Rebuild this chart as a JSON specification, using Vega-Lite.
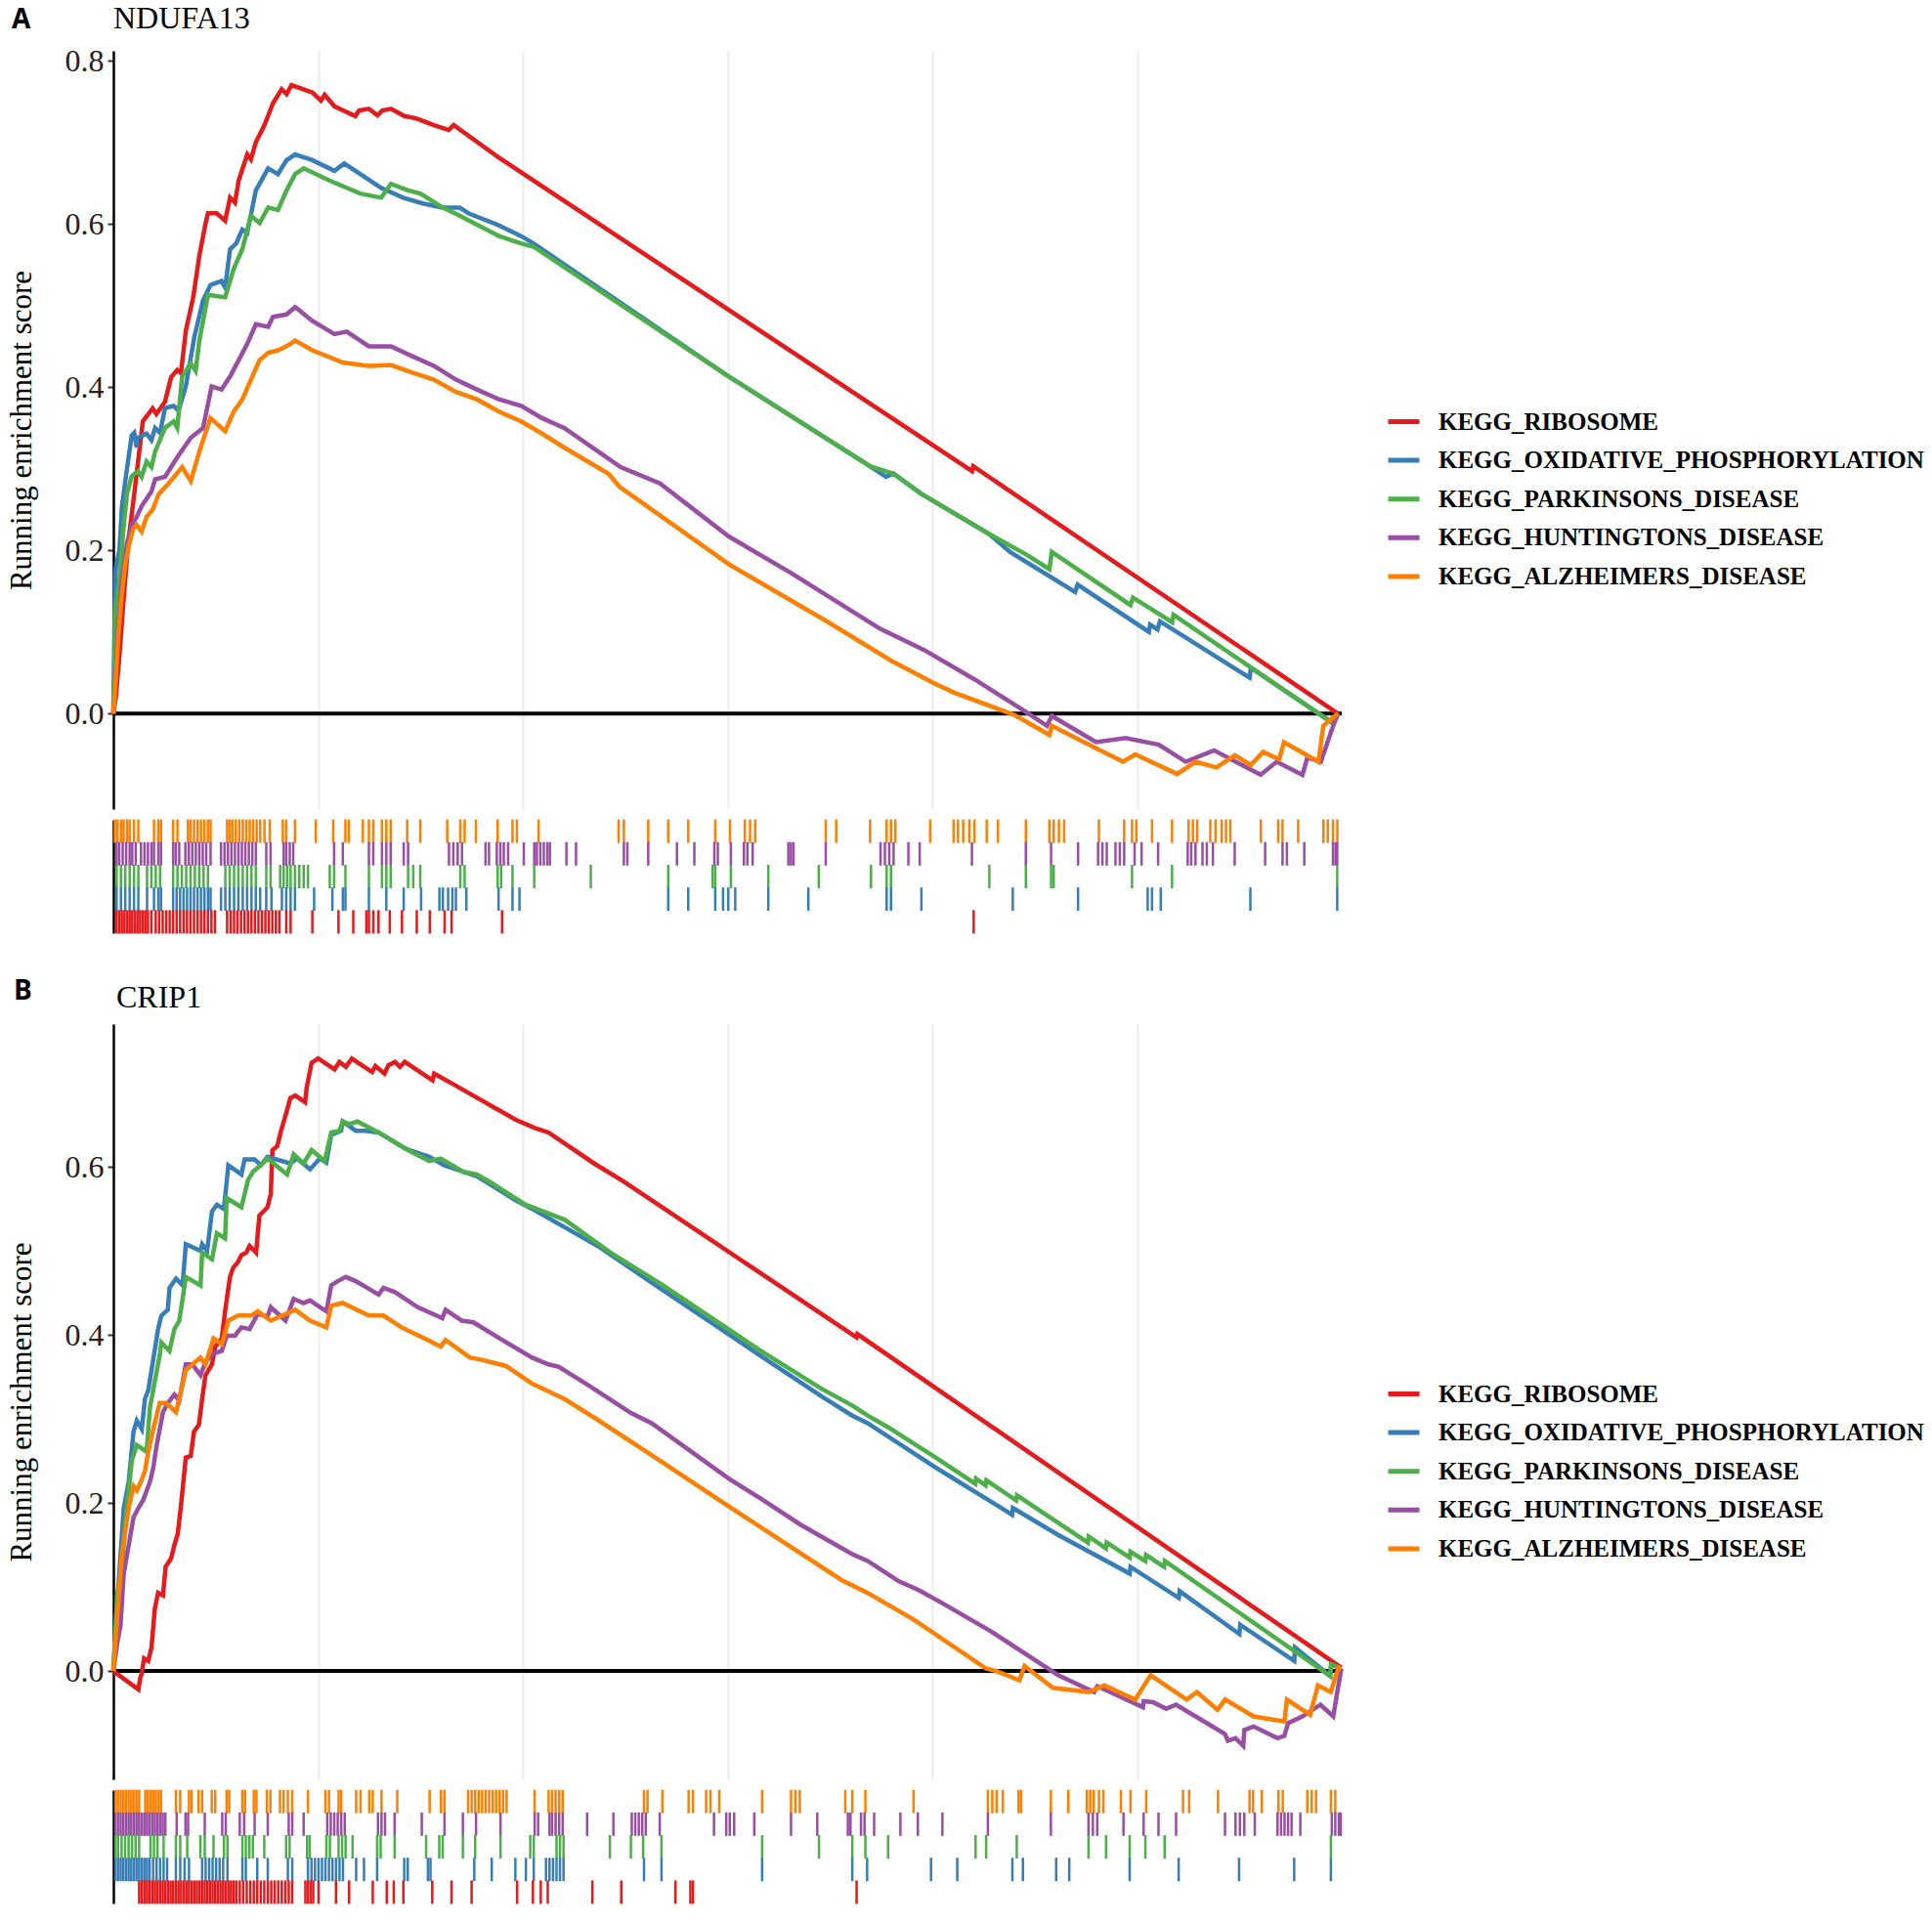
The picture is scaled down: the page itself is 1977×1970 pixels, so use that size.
{
  "$schema": "https://vega.github.io/schema/vega-lite/v6.json",
  "background": "white",
  "padding": {"left": 6, "top": 3, "right": 5, "bottom": 5},
  "config": {"font": "Liberation Serif", "view": {"stroke": null}},
  "datasets": {
    "curvesA": [
      {"set":"RIB","rank":0,"es":0},{"set":"RIB","rank":60,"es":0.02},{"set":"RIB","rank":150,"es":0.072},{"set":"RIB","rank":240,"es":0.133},{"set":"RIB","rank":360,"es":0.208},{"set":"RIB","rank":510,"es":0.269},{"set":"RIB","rank":720,"es":0.358},{"set":"RIB","rank":960,"es":0.374},{"set":"RIB","rank":1050,"es":0.367},{"set":"RIB","rank":1260,"es":0.382},{"set":"RIB","rank":1410,"es":0.412},{"set":"RIB","rank":1560,"es":0.421},{"set":"RIB","rank":1650,"es":0.417},{"set":"RIB","rank":1770,"es":0.469},{"set":"RIB","rank":1950,"es":0.51},{"set":"RIB","rank":2100,"es":0.561},{"set":"RIB","rank":2250,"es":0.6},{"set":"RIB","rank":2310,"es":0.613},{"set":"RIB","rank":2520,"es":0.613},{"set":"RIB","rank":2730,"es":0.604},{"set":"RIB","rank":2850,"es":0.632},{"set":"RIB","rank":2970,"es":0.626},{"set":"RIB","rank":3060,"es":0.653},{"set":"RIB","rank":3270,"es":0.685},{"set":"RIB","rank":3360,"es":0.679},{"set":"RIB","rank":3480,"es":0.7},{"set":"RIB","rank":3690,"es":0.721},{"set":"RIB","rank":3900,"es":0.748},{"set":"RIB","rank":4110,"es":0.765},{"set":"RIB","rank":4230,"es":0.759},{"set":"RIB","rank":4350,"es":0.77},{"set":"RIB","rank":4860,"es":0.761},{"set":"RIB","rank":5070,"es":0.751},{"set":"RIB","rank":5160,"es":0.758},{"set":"RIB","rank":5400,"es":0.744},{"set":"RIB","rank":5610,"es":0.739},{"set":"RIB","rank":5910,"es":0.732},{"set":"RIB","rank":6000,"es":0.739},{"set":"RIB","rank":6240,"es":0.741},{"set":"RIB","rank":6450,"es":0.733},{"set":"RIB","rank":6570,"es":0.739},{"set":"RIB","rank":6780,"es":0.741},{"set":"RIB","rank":7110,"es":0.732},{"set":"RIB","rank":7410,"es":0.729},{"set":"RIB","rank":7830,"es":0.721},{"set":"RIB","rank":8190,"es":0.715},{"set":"RIB","rank":8310,"es":0.721},{"set":"RIB","rank":9420,"es":0.681},{"set":"RIB","rank":20970,"es":0.297},{"set":"RIB","rank":21000,"es":0.303},{"set":"RIB","rank":29910,"es":0},
      {"set":"OXP","rank":0,"es":0},{"set":"OXP","rank":30,"es":0.118},{"set":"OXP","rank":60,"es":0.178},{"set":"OXP","rank":150,"es":0.201},{"set":"OXP","rank":210,"es":0.254},{"set":"OXP","rank":330,"es":0.299},{"set":"OXP","rank":450,"es":0.341},{"set":"OXP","rank":510,"es":0.344},{"set":"OXP","rank":570,"es":0.326},{"set":"OXP","rank":600,"es":0.338},{"set":"OXP","rank":810,"es":0.343},{"set":"OXP","rank":930,"es":0.335},{"set":"OXP","rank":1020,"es":0.35},{"set":"OXP","rank":1140,"es":0.344},{"set":"OXP","rank":1260,"es":0.374},{"set":"OXP","rank":1470,"es":0.377},{"set":"OXP","rank":1590,"es":0.371},{"set":"OXP","rank":1770,"es":0.401},{"set":"OXP","rank":1980,"es":0.462},{"set":"OXP","rank":2190,"es":0.506},{"set":"OXP","rank":2370,"es":0.525},{"set":"OXP","rank":2640,"es":0.53},{"set":"OXP","rank":2730,"es":0.522},{"set":"OXP","rank":2850,"es":0.569},{"set":"OXP","rank":3000,"es":0.576},{"set":"OXP","rank":3150,"es":0.593},{"set":"OXP","rank":3270,"es":0.589},{"set":"OXP","rank":3480,"es":0.641},{"set":"OXP","rank":3780,"es":0.668},{"set":"OXP","rank":4020,"es":0.661},{"set":"OXP","rank":4230,"es":0.678},{"set":"OXP","rank":4440,"es":0.685},{"set":"OXP","rank":4860,"es":0.678},{"set":"OXP","rank":5400,"es":0.665},{"set":"OXP","rank":5640,"es":0.674},{"set":"OXP","rank":6030,"es":0.661},{"set":"OXP","rank":6540,"es":0.644},{"set":"OXP","rank":7080,"es":0.632},{"set":"OXP","rank":7560,"es":0.625},{"set":"OXP","rank":8040,"es":0.62},{"set":"OXP","rank":8460,"es":0.62},{"set":"OXP","rank":8670,"es":0.613},{"set":"OXP","rank":9420,"es":0.598},{"set":"OXP","rank":9960,"es":0.585},{"set":"OXP","rank":10260,"es":0.576},{"set":"OXP","rank":15030,"es":0.413},{"set":"OXP","rank":18480,"es":0.303},{"set":"OXP","rank":18870,"es":0.29},{"set":"OXP","rank":19050,"es":0.294},{"set":"OXP","rank":19740,"es":0.269},{"set":"OXP","rank":21390,"es":0.22},{"set":"OXP","rank":21900,"es":0.198},{"set":"OXP","rank":23490,"es":0.149},{"set":"OXP","rank":23550,"es":0.158},{"set":"OXP","rank":25290,"es":0.1},{"set":"OXP","rank":25320,"es":0.109},{"set":"OXP","rank":25500,"es":0.103},{"set":"OXP","rank":25560,"es":0.113},{"set":"OXP","rank":27750,"es":0.044},{"set":"OXP","rank":27780,"es":0.056},{"set":"OXP","rank":29760,"es":-0.011},{"set":"OXP","rank":29910,"es":0},
      {"set":"PD","rank":0,"es":0},{"set":"PD","rank":30,"es":0.072},{"set":"PD","rank":60,"es":0.133},{"set":"PD","rank":150,"es":0.163},{"set":"PD","rank":240,"es":0.223},{"set":"PD","rank":330,"es":0.269},{"set":"PD","rank":450,"es":0.291},{"set":"PD","rank":600,"es":0.297},{"set":"PD","rank":690,"es":0.29},{"set":"PD","rank":810,"es":0.309},{"set":"PD","rank":930,"es":0.302},{"set":"PD","rank":1020,"es":0.321},{"set":"PD","rank":1260,"es":0.35},{"set":"PD","rank":1470,"es":0.358},{"set":"PD","rank":1560,"es":0.35},{"set":"PD","rank":1680,"es":0.413},{"set":"PD","rank":1890,"es":0.429},{"set":"PD","rank":2010,"es":0.42},{"set":"PD","rank":2100,"es":0.457},{"set":"PD","rank":2310,"es":0.513},{"set":"PD","rank":2730,"es":0.51},{"set":"PD","rank":2940,"es":0.545},{"set":"PD","rank":3150,"es":0.569},{"set":"PD","rank":3360,"es":0.61},{"set":"PD","rank":3570,"es":0.601},{"set":"PD","rank":3780,"es":0.62},{"set":"PD","rank":4020,"es":0.617},{"set":"PD","rank":4230,"es":0.641},{"set":"PD","rank":4440,"es":0.661},{"set":"PD","rank":4650,"es":0.668},{"set":"PD","rank":5280,"es":0.653},{"set":"PD","rank":6030,"es":0.637},{"set":"PD","rank":6540,"es":0.632},{"set":"PD","rank":6780,"es":0.649},{"set":"PD","rank":7200,"es":0.641},{"set":"PD","rank":7500,"es":0.637},{"set":"PD","rank":8040,"es":0.62},{"set":"PD","rank":8460,"es":0.61},{"set":"PD","rank":9420,"es":0.585},{"set":"PD","rank":9960,"es":0.576},{"set":"PD","rank":10260,"es":0.572},{"set":"PD","rank":15030,"es":0.413},{"set":"PD","rank":18480,"es":0.303},{"set":"PD","rank":19050,"es":0.294},{"set":"PD","rank":19740,"es":0.269},{"set":"PD","rank":21390,"es":0.22},{"set":"PD","rank":22290,"es":0.195},{"set":"PD","rank":22860,"es":0.177},{"set":"PD","rank":22920,"es":0.198},{"set":"PD","rank":24840,"es":0.133},{"set":"PD","rank":24900,"es":0.142},{"set":"PD","rank":25860,"es":0.112},{"set":"PD","rank":25890,"es":0.121},{"set":"PD","rank":29760,"es":-0.011},{"set":"PD","rank":29910,"es":0},
      {"set":"HD","rank":0,"es":0},{"set":"HD","rank":60,"es":0.05},{"set":"HD","rank":120,"es":0.11},{"set":"HD","rank":210,"es":0.163},{"set":"HD","rank":330,"es":0.208},{"set":"HD","rank":450,"es":0.231},{"set":"HD","rank":570,"es":0.241},{"set":"HD","rank":690,"es":0.254},{"set":"HD","rank":810,"es":0.263},{"set":"HD","rank":930,"es":0.272},{"set":"HD","rank":1020,"es":0.287},{"set":"HD","rank":1260,"es":0.29},{"set":"HD","rank":1560,"es":0.314},{"set":"HD","rank":1890,"es":0.338},{"set":"HD","rank":2190,"es":0.35},{"set":"HD","rank":2400,"es":0.401},{"set":"HD","rank":2640,"es":0.397},{"set":"HD","rank":2850,"es":0.413},{"set":"HD","rank":3060,"es":0.433},{"set":"HD","rank":3270,"es":0.453},{"set":"HD","rank":3480,"es":0.477},{"set":"HD","rank":3780,"es":0.474},{"set":"HD","rank":3900,"es":0.486},{"set":"HD","rank":4230,"es":0.489},{"set":"HD","rank":4440,"es":0.498},{"set":"HD","rank":4860,"es":0.481},{"set":"HD","rank":5400,"es":0.465},{"set":"HD","rank":5700,"es":0.468},{"set":"HD","rank":6240,"es":0.45},{"set":"HD","rank":6780,"es":0.45},{"set":"HD","rank":7290,"es":0.438},{"set":"HD","rank":7830,"es":0.426},{"set":"HD","rank":8370,"es":0.409},{"set":"HD","rank":8880,"es":0.397},{"set":"HD","rank":9420,"es":0.385},{"set":"HD","rank":9960,"es":0.377},{"set":"HD","rank":10470,"es":0.362},{"set":"HD","rank":11010,"es":0.35},{"set":"HD","rank":12390,"es":0.302},{"set":"HD","rank":13350,"es":0.282},{"set":"HD","rank":15030,"es":0.217},{"set":"HD","rank":16560,"es":0.172},{"set":"HD","rank":18720,"es":0.104},{"set":"HD","rank":19800,"es":0.078},{"set":"HD","rank":21030,"es":0.042},{"set":"HD","rank":22290,"es":0.002},{"set":"HD","rank":22800,"es":-0.015},{"set":"HD","rank":22920,"es":-0.003},{"set":"HD","rank":24000,"es":-0.035},{"set":"HD","rank":24720,"es":-0.03},{"set":"HD","rank":25530,"es":-0.038},{"set":"HD","rank":26190,"es":-0.059},{"set":"HD","rank":26880,"es":-0.045},{"set":"HD","rank":28020,"es":-0.075},{"set":"HD","rank":28410,"es":-0.059},{"set":"HD","rank":29040,"es":-0.075},{"set":"HD","rank":29160,"es":-0.054},{"set":"HD","rank":29490,"es":-0.059},{"set":"HD","rank":29790,"es":-0.015},{"set":"HD","rank":29910,"es":0},
      {"set":"AD","rank":0,"es":0},{"set":"AD","rank":60,"es":0.042},{"set":"AD","rank":120,"es":0.095},{"set":"AD","rank":210,"es":0.148},{"set":"AD","rank":300,"es":0.186},{"set":"AD","rank":390,"es":0.208},{"set":"AD","rank":480,"es":0.226},{"set":"AD","rank":570,"es":0.231},{"set":"AD","rank":690,"es":0.223},{"set":"AD","rank":810,"es":0.241},{"set":"AD","rank":960,"es":0.25},{"set":"AD","rank":1110,"es":0.269},{"set":"AD","rank":1350,"es":0.282},{"set":"AD","rank":1680,"es":0.302},{"set":"AD","rank":1890,"es":0.285},{"set":"AD","rank":2100,"es":0.321},{"set":"AD","rank":2370,"es":0.362},{"set":"AD","rank":2730,"es":0.346},{"set":"AD","rank":2940,"es":0.37},{"set":"AD","rank":3150,"es":0.385},{"set":"AD","rank":3360,"es":0.409},{"set":"AD","rank":3570,"es":0.433},{"set":"AD","rank":3780,"es":0.442},{"set":"AD","rank":4020,"es":0.445},{"set":"AD","rank":4230,"es":0.45},{"set":"AD","rank":4440,"es":0.457},{"set":"AD","rank":4860,"es":0.445},{"set":"AD","rank":5610,"es":0.43},{"set":"AD","rank":6240,"es":0.426},{"set":"AD","rank":6780,"es":0.427},{"set":"AD","rank":7290,"es":0.418},{"set":"AD","rank":7830,"es":0.409},{"set":"AD","rank":8370,"es":0.394},{"set":"AD","rank":8880,"es":0.385},{"set":"AD","rank":9420,"es":0.37},{"set":"AD","rank":9960,"es":0.358},{"set":"AD","rank":10470,"es":0.343},{"set":"AD","rank":11010,"es":0.326},{"set":"AD","rank":12090,"es":0.294},{"set":"AD","rank":12360,"es":0.278},{"set":"AD","rank":15030,"es":0.183},{"set":"AD","rank":17460,"es":0.112},{"set":"AD","rank":18990,"es":0.065},{"set":"AD","rank":20010,"es":0.038},{"set":"AD","rank":20520,"es":0.026},{"set":"AD","rank":22020,"es":-0.002},{"set":"AD","rank":22860,"es":-0.026},{"set":"AD","rank":22920,"es":-0.015},{"set":"AD","rank":24060,"es":-0.044},{"set":"AD","rank":24660,"es":-0.059},{"set":"AD","rank":24960,"es":-0.05},{"set":"AD","rank":25980,"es":-0.074},{"set":"AD","rank":26430,"es":-0.059},{"set":"AD","rank":26940,"es":-0.066},{"set":"AD","rank":27390,"es":-0.051},{"set":"AD","rank":27780,"es":-0.063},{"set":"AD","rank":28080,"es":-0.047},{"set":"AD","rank":28470,"es":-0.056},{"set":"AD","rank":28590,"es":-0.035},{"set":"AD","rank":29430,"es":-0.059},{"set":"AD","rank":29550,"es":-0.015},{"set":"AD","rank":29760,"es":-0.006},{"set":"AD","rank":29910,"es":0}
    ],
    "rugA": [
      {"set":"AD","rank":36},{"set":"AD","rank":100},{"set":"AD","rank":185},{"set":"AD","rank":249},{"set":"AD","rank":334},{"set":"AD","rank":398},{"set":"AD","rank":504},{"set":"AD","rank":610},{"set":"AD","rank":993},{"set":"AD","rank":1099},{"set":"AD","rank":1163},{"set":"AD","rank":1460},{"set":"AD","rank":1566},{"set":"AD","rank":1821},{"set":"AD","rank":1885},{"set":"AD","rank":1970},{"set":"AD","rank":2055},{"set":"AD","rank":2140},{"set":"AD","rank":2225},{"set":"AD","rank":2310},{"set":"AD","rank":2374},{"set":"AD","rank":2778},{"set":"AD","rank":2841},{"set":"AD","rank":2905},{"set":"AD","rank":2990},{"set":"AD","rank":3075},{"set":"AD","rank":3160},{"set":"AD","rank":3245},{"set":"AD","rank":3330},{"set":"AD","rank":3415},{"set":"AD","rank":3500},{"set":"AD","rank":3585},{"set":"AD","rank":3691},{"set":"AD","rank":3819},{"set":"AD","rank":4138},{"set":"AD","rank":4223},{"set":"AD","rank":4435},{"set":"AD","rank":4945},{"set":"AD","rank":5370},{"set":"AD","rank":5668},{"set":"AD","rank":5753},{"set":"AD","rank":6093},{"set":"AD","rank":6241},{"set":"AD","rank":6348},{"set":"AD","rank":6560},{"set":"AD","rank":6666},{"set":"AD","rank":6773},{"set":"AD","rank":7176},{"set":"AD","rank":7495},{"set":"AD","rank":8154},{"set":"AD","rank":8473},{"set":"AD","rank":8579},{"set":"AD","rank":8855},{"set":"AD","rank":9386},{"set":"AD","rank":9748},{"set":"AD","rank":9854},{"set":"AD","rank":10385},{"set":"AD","rank":12340},{"set":"AD","rank":12468},{"set":"AD","rank":13063},{"set":"AD","rank":13551},{"set":"AD","rank":14040},{"set":"AD","rank":14699},{"set":"AD","rank":15060},{"set":"AD","rank":15421},{"set":"AD","rank":15549},{"set":"AD","rank":15676},{"set":"AD","rank":17398},{"set":"AD","rank":17653},{"set":"AD","rank":18481},{"set":"AD","rank":18885},{"set":"AD","rank":18991},{"set":"AD","rank":19098},{"set":"AD","rank":19948},{"set":"AD","rank":20521},{"set":"AD","rank":20628},{"set":"AD","rank":20755},{"set":"AD","rank":20904},{"set":"AD","rank":21031},{"set":"AD","rank":21329},{"set":"AD","rank":21605},{"set":"AD","rank":22285},{"set":"AD","rank":22859},{"set":"AD","rank":22965},{"set":"AD","rank":23093},{"set":"AD","rank":23220},{"set":"AD","rank":24070},{"set":"AD","rank":24686},{"set":"AD","rank":24878},{"set":"AD","rank":24984},{"set":"AD","rank":25366},{"set":"AD","rank":25855},{"set":"AD","rank":26259},{"set":"AD","rank":26365},{"set":"AD","rank":26471},{"set":"AD","rank":26790},{"set":"AD","rank":26918},{"set":"AD","rank":27066},{"set":"AD","rank":27173},{"set":"AD","rank":27279},{"set":"AD","rank":28023},{"set":"AD","rank":28448},{"set":"AD","rank":28554},{"set":"AD","rank":28936},{"set":"AD","rank":29553},{"set":"AD","rank":29659},{"set":"AD","rank":29786},{"set":"AD","rank":29893},
      {"set":"HD","rank":79},{"set":"HD","rank":143},{"set":"HD","rank":228},{"set":"HD","rank":313},{"set":"HD","rank":398},{"set":"HD","rank":461},{"set":"HD","rank":546},{"set":"HD","rank":674},{"set":"HD","rank":759},{"set":"HD","rank":844},{"set":"HD","rank":929},{"set":"HD","rank":993},{"set":"HD","rank":1099},{"set":"HD","rank":1163},{"set":"HD","rank":1460},{"set":"HD","rank":1524},{"set":"HD","rank":1609},{"set":"HD","rank":1758},{"set":"HD","rank":1843},{"set":"HD","rank":1928},{"set":"HD","rank":2013},{"set":"HD","rank":2098},{"set":"HD","rank":2183},{"set":"HD","rank":2268},{"set":"HD","rank":2374},{"set":"HD","rank":2629},{"set":"HD","rank":2714},{"set":"HD","rank":2799},{"set":"HD","rank":2884},{"set":"HD","rank":2969},{"set":"HD","rank":3054},{"set":"HD","rank":3139},{"set":"HD","rank":3224},{"set":"HD","rank":3309},{"set":"HD","rank":3394},{"set":"HD","rank":3479},{"set":"HD","rank":3734},{"set":"HD","rank":3840},{"set":"HD","rank":4159},{"set":"HD","rank":4223},{"set":"HD","rank":4308},{"set":"HD","rank":4393},{"set":"HD","rank":5391},{"set":"HD","rank":5604},{"set":"HD","rank":6241},{"set":"HD","rank":6348},{"set":"HD","rank":6560},{"set":"HD","rank":6666},{"set":"HD","rank":6773},{"set":"HD","rank":7091},{"set":"HD","rank":7198},{"set":"HD","rank":8196},{"set":"HD","rank":8303},{"set":"HD","rank":8409},{"set":"HD","rank":8515},{"set":"HD","rank":9089},{"set":"HD","rank":9174},{"set":"HD","rank":9365},{"set":"HD","rank":9450},{"set":"HD","rank":9535},{"set":"HD","rank":9641},{"set":"HD","rank":10024},{"set":"HD","rank":10279},{"set":"HD","rank":10343},{"set":"HD","rank":10428},{"set":"HD","rank":10513},{"set":"HD","rank":10598},{"set":"HD","rank":10661},{"set":"HD","rank":11065},{"set":"HD","rank":11299},{"set":"HD","rank":12468},{"set":"HD","rank":12553},{"set":"HD","rank":13063},{"set":"HD","rank":13764},{"set":"HD","rank":14189},{"set":"HD","rank":14678},{"set":"HD","rank":14763},{"set":"HD","rank":15081},{"set":"HD","rank":15400},{"set":"HD","rank":15485},{"set":"HD","rank":15613},{"set":"HD","rank":16484},{"set":"HD","rank":16548},{"set":"HD","rank":16611},{"set":"HD","rank":17398},{"set":"HD","rank":18736},{"set":"HD","rank":18843},{"set":"HD","rank":18949},{"set":"HD","rank":19055},{"set":"HD","rank":19416},{"set":"HD","rank":19693},{"set":"HD","rank":20968},{"set":"HD","rank":22285},{"set":"HD","rank":22901},{"set":"HD","rank":23560},{"set":"HD","rank":24049},{"set":"HD","rank":24155},{"set":"HD","rank":24261},{"set":"HD","rank":24474},{"set":"HD","rank":24580},{"set":"HD","rank":24686},{"set":"HD","rank":24941},{"set":"HD","rank":25111},{"set":"HD","rank":25515},{"set":"HD","rank":26238},{"set":"HD","rank":26323},{"set":"HD","rank":26428},{"set":"HD","rank":26599},{"set":"HD","rank":26705},{"set":"HD","rank":26854},{"set":"HD","rank":27385},{"set":"HD","rank":28129},{"set":"HD","rank":28554},{"set":"HD","rank":28660},{"set":"HD","rank":29085},{"set":"HD","rank":29786},{"set":"HD","rank":29850},{"set":"HD","rank":29890},
      {"set":"PD","rank":79},{"set":"PD","rank":185},{"set":"PD","rank":291},{"set":"PD","rank":398},{"set":"PD","rank":504},{"set":"PD","rank":610},{"set":"PD","rank":823},{"set":"PD","rank":929},{"set":"PD","rank":1035},{"set":"PD","rank":1141},{"set":"PD","rank":1460},{"set":"PD","rank":1566},{"set":"PD","rank":1673},{"set":"PD","rank":1779},{"set":"PD","rank":1885},{"set":"PD","rank":1991},{"set":"PD","rank":2098},{"set":"PD","rank":2204},{"set":"PD","rank":2310},{"set":"PD","rank":2735},{"set":"PD","rank":2841},{"set":"PD","rank":2948},{"set":"PD","rank":3054},{"set":"PD","rank":3160},{"set":"PD","rank":3266},{"set":"PD","rank":3373},{"set":"PD","rank":3479},{"set":"PD","rank":3734},{"set":"PD","rank":3840},{"set":"PD","rank":4074},{"set":"PD","rank":4159},{"set":"PD","rank":4244},{"set":"PD","rank":4329},{"set":"PD","rank":4435},{"set":"PD","rank":4541},{"set":"PD","rank":4648},{"set":"PD","rank":4754},{"set":"PD","rank":5285},{"set":"PD","rank":5391},{"set":"PD","rank":5668},{"set":"PD","rank":6241},{"set":"PD","rank":6560},{"set":"PD","rank":6666},{"set":"PD","rank":6773},{"set":"PD","rank":7198},{"set":"PD","rank":7325},{"set":"PD","rank":7495},{"set":"PD","rank":8473},{"set":"PD","rank":8579},{"set":"PD","rank":9386},{"set":"PD","rank":9471},{"set":"PD","rank":9748},{"set":"PD","rank":10279},{"set":"PD","rank":11660},{"set":"PD","rank":13551},{"set":"PD","rank":14635},{"set":"PD","rank":14699},{"set":"PD","rank":15081},{"set":"PD","rank":15995},{"set":"PD","rank":17228},{"set":"PD","rank":18503},{"set":"PD","rank":18885},{"set":"PD","rank":18991},{"set":"PD","rank":21393},{"set":"PD","rank":22285},{"set":"PD","rank":22901},{"set":"PD","rank":22965},{"set":"PD","rank":24878},{"set":"PD","rank":25855},{"set":"PD","rank":29890},
      {"set":"OXP","rank":79},{"set":"OXP","rank":185},{"set":"OXP","rank":291},{"set":"OXP","rank":398},{"set":"OXP","rank":504},{"set":"OXP","rank":610},{"set":"OXP","rank":823},{"set":"OXP","rank":993},{"set":"OXP","rank":1099},{"set":"OXP","rank":1163},{"set":"OXP","rank":1460},{"set":"OXP","rank":1545},{"set":"OXP","rank":1630},{"set":"OXP","rank":1715},{"set":"OXP","rank":1800},{"set":"OXP","rank":1885},{"set":"OXP","rank":1970},{"set":"OXP","rank":2055},{"set":"OXP","rank":2140},{"set":"OXP","rank":2225},{"set":"OXP","rank":2310},{"set":"OXP","rank":2374},{"set":"OXP","rank":2629},{"set":"OXP","rank":2735},{"set":"OXP","rank":2841},{"set":"OXP","rank":2948},{"set":"OXP","rank":3054},{"set":"OXP","rank":3160},{"set":"OXP","rank":3266},{"set":"OXP","rank":3373},{"set":"OXP","rank":3479},{"set":"OXP","rank":3585},{"set":"OXP","rank":3734},{"set":"OXP","rank":3861},{"set":"OXP","rank":4116},{"set":"OXP","rank":4223},{"set":"OXP","rank":4329},{"set":"OXP","rank":4435},{"set":"OXP","rank":4903},{"set":"OXP","rank":5349},{"set":"OXP","rank":5604},{"set":"OXP","rank":5668},{"set":"OXP","rank":6241},{"set":"OXP","rank":6666},{"set":"OXP","rank":7091},{"set":"OXP","rank":7516},{"set":"OXP","rank":7963},{"set":"OXP","rank":8048},{"set":"OXP","rank":8175},{"set":"OXP","rank":8281},{"set":"OXP","rank":8366},{"set":"OXP","rank":8621},{"set":"OXP","rank":9408},{"set":"OXP","rank":9748},{"set":"OXP","rank":9918},{"set":"OXP","rank":13551},{"set":"OXP","rank":14040},{"set":"OXP","rank":14699},{"set":"OXP","rank":14890},{"set":"OXP","rank":15018},{"set":"OXP","rank":15188},{"set":"OXP","rank":15995},{"set":"OXP","rank":16973},{"set":"OXP","rank":18885},{"set":"OXP","rank":18991},{"set":"OXP","rank":19735},{"set":"OXP","rank":21966},{"set":"OXP","rank":23560},{"set":"OXP","rank":25260},{"set":"OXP","rank":25366},{"set":"OXP","rank":25579},{"set":"OXP","rank":27768},{"set":"OXP","rank":29890},
      {"set":"RIB","rank":79},{"set":"RIB","rank":143},{"set":"RIB","rank":206},{"set":"RIB","rank":270},{"set":"RIB","rank":334},{"set":"RIB","rank":398},{"set":"RIB","rank":461},{"set":"RIB","rank":525},{"set":"RIB","rank":589},{"set":"RIB","rank":653},{"set":"RIB","rank":716},{"set":"RIB","rank":780},{"set":"RIB","rank":844},{"set":"RIB","rank":929},{"set":"RIB","rank":1035},{"set":"RIB","rank":1120},{"set":"RIB","rank":1205},{"set":"RIB","rank":1290},{"set":"RIB","rank":1375},{"set":"RIB","rank":1460},{"set":"RIB","rank":1545},{"set":"RIB","rank":1630},{"set":"RIB","rank":1715},{"set":"RIB","rank":1800},{"set":"RIB","rank":1885},{"set":"RIB","rank":1970},{"set":"RIB","rank":2055},{"set":"RIB","rank":2140},{"set":"RIB","rank":2225},{"set":"RIB","rank":2310},{"set":"RIB","rank":2395},{"set":"RIB","rank":2480},{"set":"RIB","rank":2778},{"set":"RIB","rank":2863},{"set":"RIB","rank":2948},{"set":"RIB","rank":3033},{"set":"RIB","rank":3118},{"set":"RIB","rank":3203},{"set":"RIB","rank":3288},{"set":"RIB","rank":3373},{"set":"RIB","rank":3458},{"set":"RIB","rank":3543},{"set":"RIB","rank":3628},{"set":"RIB","rank":3713},{"set":"RIB","rank":3798},{"set":"RIB","rank":3883},{"set":"RIB","rank":3968},{"set":"RIB","rank":4053},{"set":"RIB","rank":4223},{"set":"RIB","rank":4329},{"set":"RIB","rank":4860},{"set":"RIB","rank":5498},{"set":"RIB","rank":5859},{"set":"RIB","rank":6178},{"set":"RIB","rank":6241},{"set":"RIB","rank":6348},{"set":"RIB","rank":6475},{"set":"RIB","rank":6751},{"set":"RIB","rank":7049},{"set":"RIB","rank":7410},{"set":"RIB","rank":7729},{"set":"RIB","rank":8090},{"set":"RIB","rank":8260},{"set":"RIB","rank":9493},{"set":"RIB","rank":21010}
    ],
    "curvesB": [
      {"set":"RIB","rank":0,"es":0},{"set":"RIB","rank":613,"es":-0.022},{"set":"RIB","rank":653,"es":-0.009},{"set":"RIB","rank":693,"es":-0.003},{"set":"RIB","rank":749,"es":0.015},{"set":"RIB","rank":852,"es":0.012},{"set":"RIB","rank":932,"es":0.028},{"set":"RIB","rank":1012,"es":0.074},{"set":"RIB","rank":1092,"es":0.093},{"set":"RIB","rank":1212,"es":0.09},{"set":"RIB","rank":1275,"es":0.124},{"set":"RIB","rank":1411,"es":0.134},{"set":"RIB","rank":1491,"es":0.15},{"set":"RIB","rank":1571,"es":0.163},{"set":"RIB","rank":1651,"es":0.197},{"set":"RIB","rank":1770,"es":0.254},{"set":"RIB","rank":1890,"es":0.256},{"set":"RIB","rank":1970,"es":0.285},{"set":"RIB","rank":2089,"es":0.293},{"set":"RIB","rank":2169,"es":0.324},{"set":"RIB","rank":2249,"es":0.352},{"set":"RIB","rank":2409,"es":0.365},{"set":"RIB","rank":2488,"es":0.386},{"set":"RIB","rank":2648,"es":0.396},{"set":"RIB","rank":2728,"es":0.428},{"set":"RIB","rank":2848,"es":0.469},{"set":"RIB","rank":2927,"es":0.48},{"set":"RIB","rank":3047,"es":0.487},{"set":"RIB","rank":3127,"es":0.495},{"set":"RIB","rank":3247,"es":0.498},{"set":"RIB","rank":3326,"es":0.506},{"set":"RIB","rank":3486,"es":0.498},{"set":"RIB","rank":3566,"es":0.542},{"set":"RIB","rank":3765,"es":0.552},{"set":"RIB","rank":3845,"es":0.568},{"set":"RIB","rank":3885,"es":0.62},{"set":"RIB","rank":4005,"es":0.625},{"set":"RIB","rank":4084,"es":0.641},{"set":"RIB","rank":4204,"es":0.661},{"set":"RIB","rank":4324,"es":0.682},{"set":"RIB","rank":4443,"es":0.685},{"set":"RIB","rank":4683,"es":0.677},{"set":"RIB","rank":4723,"es":0.695},{"set":"RIB","rank":4843,"es":0.724},{"set":"RIB","rank":5002,"es":0.729},{"set":"RIB","rank":5401,"es":0.716},{"set":"RIB","rank":5521,"es":0.725},{"set":"RIB","rank":5680,"es":0.719},{"set":"RIB","rank":5824,"es":0.729},{"set":"RIB","rank":6319,"es":0.713},{"set":"RIB","rank":6399,"es":0.72},{"set":"RIB","rank":6622,"es":0.711},{"set":"RIB","rank":6718,"es":0.721},{"set":"RIB","rank":6877,"es":0.725},{"set":"RIB","rank":6997,"es":0.719},{"set":"RIB","rank":7117,"es":0.725},{"set":"RIB","rank":7795,"es":0.703},{"set":"RIB","rank":7835,"es":0.711},{"set":"RIB","rank":8314,"es":0.698},{"set":"RIB","rank":8713,"es":0.687},{"set":"RIB","rank":9830,"es":0.656},{"set":"RIB","rank":10309,"es":0.646},{"set":"RIB","rank":10628,"es":0.641},{"set":"RIB","rank":11745,"es":0.604},{"set":"RIB","rank":12454,"es":0.583},{"set":"RIB","rank":18150,"es":0.397},{"set":"RIB","rank":18171,"es":0.401},{"set":"RIB","rank":29990,"es":0.004},
      {"set":"OXP","rank":0,"es":0},{"set":"OXP","rank":78,"es":0.069},{"set":"OXP","rank":254,"es":0.194},{"set":"OXP","rank":374,"es":0.225},{"set":"OXP","rank":493,"es":0.285},{"set":"OXP","rank":573,"es":0.298},{"set":"OXP","rank":693,"es":0.288},{"set":"OXP","rank":772,"es":0.324},{"set":"OXP","rank":852,"es":0.334},{"set":"OXP","rank":972,"es":0.37},{"set":"OXP","rank":1092,"es":0.407},{"set":"OXP","rank":1172,"es":0.423},{"set":"OXP","rank":1331,"es":0.43},{"set":"OXP","rank":1371,"es":0.456},{"set":"OXP","rank":1531,"es":0.467},{"set":"OXP","rank":1690,"es":0.459},{"set":"OXP","rank":1770,"es":0.508},{"set":"OXP","rank":2129,"es":0.5},{"set":"OXP","rank":2169,"es":0.508},{"set":"OXP","rank":2289,"es":0.5},{"set":"OXP","rank":2409,"es":0.547},{"set":"OXP","rank":2528,"es":0.555},{"set":"OXP","rank":2700,"es":0.55},{"set":"OXP","rank":2808,"es":0.602},{"set":"OXP","rank":3127,"es":0.591},{"set":"OXP","rank":3206,"es":0.609},{"set":"OXP","rank":3446,"es":0.609},{"set":"OXP","rank":3605,"es":0.602},{"set":"OXP","rank":3765,"es":0.612},{"set":"OXP","rank":4324,"es":0.604},{"set":"OXP","rank":4484,"es":0.61},{"set":"OXP","rank":4803,"es":0.597},{"set":"OXP","rank":5042,"es":0.61},{"set":"OXP","rank":5200,"es":0.605},{"set":"OXP","rank":5321,"es":0.638},{"set":"OXP","rank":5561,"es":0.643},{"set":"OXP","rank":5601,"es":0.654},{"set":"OXP","rank":5920,"es":0.643},{"set":"OXP","rank":6159,"es":0.643},{"set":"OXP","rank":6478,"es":0.641},{"set":"OXP","rank":7117,"es":0.622},{"set":"OXP","rank":7715,"es":0.612},{"set":"OXP","rank":8074,"es":0.602},{"set":"OXP","rank":8872,"es":0.589},{"set":"OXP","rank":9830,"es":0.56},{"set":"OXP","rank":10229,"es":0.55},{"set":"OXP","rank":11825,"es":0.506},{"set":"OXP","rank":13396,"es":0.454},{"set":"OXP","rank":15783,"es":0.376},{"set":"OXP","rank":17291,"es":0.327},{"set":"OXP","rank":18045,"es":0.304},{"set":"OXP","rank":18422,"es":0.295},{"set":"OXP","rank":20055,"es":0.243},{"set":"OXP","rank":20621,"es":0.226},{"set":"OXP","rank":21950,"es":0.186},{"set":"OXP","rank":21970,"es":0.194},{"set":"OXP","rank":23071,"es":0.162},{"set":"OXP","rank":24820,"es":0.116},{"set":"OXP","rank":24840,"es":0.124},{"set":"OXP","rank":26020,"es":0.087},{"set":"OXP","rank":26040,"es":0.095},{"set":"OXP","rank":27500,"es":0.044},{"set":"OXP","rank":27520,"es":0.055},{"set":"OXP","rank":28840,"es":0.012},{"set":"OXP","rank":28860,"es":0.028},{"set":"OXP","rank":29720,"es":-0.006},{"set":"OXP","rank":29740,"es":0.008},{"set":"OXP","rank":29990,"es":0.003},
      {"set":"PD","rank":0,"es":0},{"set":"PD","rank":94,"es":0.09},{"set":"PD","rank":214,"es":0.124},{"set":"PD","rank":294,"es":0.178},{"set":"PD","rank":453,"es":0.251},{"set":"PD","rank":573,"es":0.269},{"set":"PD","rank":812,"es":0.261},{"set":"PD","rank":892,"es":0.313},{"set":"PD","rank":1132,"es":0.376},{"set":"PD","rank":1172,"es":0.391},{"set":"PD","rank":1371,"es":0.381},{"set":"PD","rank":1491,"es":0.407},{"set":"PD","rank":1611,"es":0.417},{"set":"PD","rank":1770,"es":0.469},{"set":"PD","rank":2129,"es":0.459},{"set":"PD","rank":2169,"es":0.498},{"set":"PD","rank":2409,"es":0.49},{"set":"PD","rank":2528,"es":0.521},{"set":"PD","rank":2728,"es":0.515},{"set":"PD","rank":2768,"es":0.563},{"set":"PD","rank":3127,"es":0.552},{"set":"PD","rank":3286,"es":0.584},{"set":"PD","rank":3406,"es":0.594},{"set":"PD","rank":3526,"es":0.599},{"set":"PD","rank":3765,"es":0.61},{"set":"PD","rank":4244,"es":0.591},{"set":"PD","rank":4404,"es":0.615},{"set":"PD","rank":4643,"es":0.604},{"set":"PD","rank":4843,"es":0.62},{"set":"PD","rank":5162,"es":0.607},{"set":"PD","rank":5321,"es":0.641},{"set":"PD","rank":5521,"es":0.643},{"set":"PD","rank":5601,"es":0.654},{"set":"PD","rank":5760,"es":0.651},{"set":"PD","rank":5960,"es":0.654},{"set":"PD","rank":6478,"es":0.641},{"set":"PD","rank":7197,"es":0.62},{"set":"PD","rank":7715,"es":0.607},{"set":"PD","rank":7994,"es":0.61},{"set":"PD","rank":8553,"es":0.594},{"set":"PD","rank":8872,"es":0.591},{"set":"PD","rank":9231,"es":0.581},{"set":"PD","rank":10069,"es":0.555},{"set":"PD","rank":10229,"es":0.552},{"set":"PD","rank":11027,"es":0.537},{"set":"PD","rank":12140,"es":0.498},{"set":"PD","rank":13396,"es":0.46},{"set":"PD","rank":15783,"es":0.382},{"set":"PD","rank":17291,"es":0.336},{"set":"PD","rank":18045,"es":0.316},{"set":"PD","rank":18422,"es":0.304},{"set":"PD","rank":18924,"es":0.29},{"set":"PD","rank":20055,"es":0.255},{"set":"PD","rank":21050,"es":0.223},{"set":"PD","rank":21070,"es":0.229},{"set":"PD","rank":21300,"es":0.221},{"set":"PD","rank":21320,"es":0.227},{"set":"PD","rank":22050,"es":0.203},{"set":"PD","rank":22070,"es":0.209},{"set":"PD","rank":23800,"es":0.153},{"set":"PD","rank":23820,"es":0.16},{"set":"PD","rank":24240,"es":0.146},{"set":"PD","rank":24260,"es":0.153},{"set":"PD","rank":24820,"es":0.135},{"set":"PD","rank":24840,"es":0.142},{"set":"PD","rank":25200,"es":0.131},{"set":"PD","rank":25220,"es":0.138},{"set":"PD","rank":25660,"es":0.124},{"set":"PD","rank":25680,"es":0.131},{"set":"PD","rank":29720,"es":-0.006},{"set":"PD","rank":29740,"es":0.008},{"set":"PD","rank":29990,"es":0.003},
      {"set":"HD","rank":0,"es":0},{"set":"HD","rank":94,"es":0.033},{"set":"HD","rank":174,"es":0.054},{"set":"HD","rank":254,"es":0.116},{"set":"HD","rank":493,"es":0.183},{"set":"HD","rank":613,"es":0.194},{"set":"HD","rank":733,"es":0.204},{"set":"HD","rank":892,"es":0.225},{"set":"HD","rank":972,"es":0.241},{"set":"HD","rank":1052,"es":0.267},{"set":"HD","rank":1212,"es":0.308},{"set":"HD","rank":1331,"es":0.319},{"set":"HD","rank":1491,"es":0.329},{"set":"HD","rank":1610,"es":0.322},{"set":"HD","rank":1770,"es":0.365},{"set":"HD","rank":1930,"es":0.365},{"set":"HD","rank":2129,"es":0.352},{"set":"HD","rank":2249,"es":0.368},{"set":"HD","rank":2448,"es":0.378},{"set":"HD","rank":2648,"es":0.381},{"set":"HD","rank":2768,"es":0.399},{"set":"HD","rank":2967,"es":0.399},{"set":"HD","rank":3127,"es":0.409},{"set":"HD","rank":3326,"es":0.407},{"set":"HD","rank":3526,"es":0.425},{"set":"HD","rank":3765,"es":0.422},{"set":"HD","rank":3845,"es":0.433},{"set":"HD","rank":4204,"es":0.417},{"set":"HD","rank":4404,"es":0.443},{"set":"HD","rank":4643,"es":0.438},{"set":"HD","rank":4803,"es":0.441},{"set":"HD","rank":5202,"es":0.428},{"set":"HD","rank":5321,"es":0.459},{"set":"HD","rank":5481,"es":0.464},{"set":"HD","rank":5680,"es":0.469},{"set":"HD","rank":5920,"es":0.464},{"set":"HD","rank":6478,"es":0.448},{"set":"HD","rank":6598,"es":0.456},{"set":"HD","rank":6877,"es":0.451},{"set":"HD","rank":7436,"es":0.433},{"set":"HD","rank":8034,"es":0.42},{"set":"HD","rank":8114,"es":0.43},{"set":"HD","rank":8513,"es":0.417},{"set":"HD","rank":8793,"es":0.415},{"set":"HD","rank":9431,"es":0.396},{"set":"HD","rank":10229,"es":0.373},{"set":"HD","rank":10628,"es":0.365},{"set":"HD","rank":10883,"es":0.362},{"set":"HD","rank":11637,"es":0.339},{"set":"HD","rank":12642,"es":0.307},{"set":"HD","rank":13145,"es":0.295},{"set":"HD","rank":15029,"es":0.229},{"set":"HD","rank":15783,"es":0.206},{"set":"HD","rank":16789,"es":0.174},{"set":"HD","rank":17291,"es":0.16},{"set":"HD","rank":18045,"es":0.139},{"set":"HD","rank":18422,"es":0.131},{"set":"HD","rank":19176,"es":0.107},{"set":"HD","rank":19679,"es":0.096},{"set":"HD","rank":20307,"es":0.079},{"set":"HD","rank":21438,"es":0.047},{"set":"HD","rank":22883,"es":0.001},{"set":"HD","rank":23071,"es":-0.005},{"set":"HD","rank":23951,"es":-0.025},{"set":"HD","rank":24029,"es":-0.018},{"set":"HD","rank":25144,"es":-0.043},{"set":"HD","rank":25162,"es":-0.036},{"set":"HD","rank":25395,"es":-0.037},{"set":"HD","rank":25709,"es":-0.045},{"set":"HD","rank":25953,"es":-0.04},{"set":"HD","rank":27149,"es":-0.075},{"set":"HD","rank":27218,"es":-0.083},{"set":"HD","rank":27406,"es":-0.08},{"set":"HD","rank":27595,"es":-0.089},{"set":"HD","rank":27620,"es":-0.07},{"set":"HD","rank":27846,"es":-0.066},{"set":"HD","rank":28432,"es":-0.08},{"set":"HD","rank":28600,"es":-0.077},{"set":"HD","rank":28689,"es":-0.062},{"set":"HD","rank":29040,"es":-0.054},{"set":"HD","rank":29480,"es":-0.04},{"set":"HD","rank":29793,"es":-0.054},{"set":"HD","rank":29919,"es":-0.017},{"set":"HD","rank":29990,"es":0.003},
      {"set":"AD","rank":0,"es":0},{"set":"AD","rank":94,"es":0.064},{"set":"AD","rank":214,"es":0.142},{"set":"AD","rank":374,"es":0.194},{"set":"AD","rank":493,"es":0.22},{"set":"AD","rank":573,"es":0.215},{"set":"AD","rank":653,"es":0.223},{"set":"AD","rank":772,"es":0.238},{"set":"AD","rank":852,"es":0.261},{"set":"AD","rank":972,"es":0.287},{"set":"AD","rank":1132,"es":0.319},{"set":"AD","rank":1291,"es":0.319},{"set":"AD","rank":1531,"es":0.308},{"set":"AD","rank":1770,"es":0.358},{"set":"AD","rank":1930,"es":0.365},{"set":"AD","rank":2129,"es":0.373},{"set":"AD","rank":2249,"es":0.365},{"set":"AD","rank":2448,"es":0.396},{"set":"AD","rank":2648,"es":0.389},{"set":"AD","rank":2808,"es":0.417},{"set":"AD","rank":3047,"es":0.423},{"set":"AD","rank":3366,"es":0.423},{"set":"AD","rank":3526,"es":0.428},{"set":"AD","rank":3845,"es":0.417},{"set":"AD","rank":4443,"es":0.43},{"set":"AD","rank":4803,"es":0.417},{"set":"AD","rank":5202,"es":0.409},{"set":"AD","rank":5321,"es":0.435},{"set":"AD","rank":5601,"es":0.438},{"set":"AD","rank":6239,"es":0.423},{"set":"AD","rank":6598,"es":0.423},{"set":"AD","rank":7037,"es":0.409},{"set":"AD","rank":7675,"es":0.394},{"set":"AD","rank":7994,"es":0.386},{"set":"AD","rank":8114,"es":0.394},{"set":"AD","rank":8713,"es":0.373},{"set":"AD","rank":8952,"es":0.371},{"set":"AD","rank":9591,"es":0.363},{"set":"AD","rank":10229,"es":0.342},{"set":"AD","rank":10708,"es":0.331},{"set":"AD","rank":11009,"es":0.324},{"set":"AD","rank":11763,"es":0.301},{"set":"AD","rank":13019,"es":0.261},{"set":"AD","rank":14904,"es":0.2},{"set":"AD","rank":16537,"es":0.148},{"set":"AD","rank":17794,"es":0.108},{"set":"AD","rank":18422,"es":0.093},{"set":"AD","rank":19553,"es":0.061},{"set":"AD","rank":21312,"es":0.003},{"set":"AD","rank":21563,"es":0},{"set":"AD","rank":22129,"es":-0.011},{"set":"AD","rank":22255,"es":0.006},{"set":"AD","rank":22946,"es":-0.02},{"set":"AD","rank":23825,"es":-0.025},{"set":"AD","rank":24202,"es":-0.017},{"set":"AD","rank":24956,"es":-0.034},{"set":"AD","rank":25332,"es":-0.005},{"set":"AD","rank":26212,"es":-0.034},{"set":"AD","rank":26463,"es":-0.025},{"set":"AD","rank":26966,"es":-0.046},{"set":"AD","rank":27154,"es":-0.034},{"set":"AD","rank":27846,"es":-0.054},{"set":"AD","rank":28600,"es":-0.06},{"set":"AD","rank":28663,"es":-0.034},{"set":"AD","rank":29228,"es":-0.052},{"set":"AD","rank":29417,"es":-0.017},{"set":"AD","rank":29731,"es":-0.025},{"set":"AD","rank":29919,"es":0.004},{"set":"AD","rank":29990,"es":0.003}
    ],
    "rugB": [
      {"set":"AD","rank":52},{"set":"AD","rank":116},{"set":"AD","rank":180},{"set":"AD","rank":244},{"set":"AD","rank":309},{"set":"AD","rank":373},{"set":"AD","rank":437},{"set":"AD","rank":501},{"set":"AD","rank":565},{"set":"AD","rank":629},{"set":"AD","rank":779},{"set":"AD","rank":843},{"set":"AD","rank":907},{"set":"AD","rank":971},{"set":"AD","rank":1035},{"set":"AD","rank":1099},{"set":"AD","rank":1163},{"set":"AD","rank":1527},{"set":"AD","rank":1633},{"set":"AD","rank":1847},{"set":"AD","rank":1911},{"set":"AD","rank":2082},{"set":"AD","rank":2168},{"set":"AD","rank":2403},{"set":"AD","rank":2488},{"set":"AD","rank":2766},{"set":"AD","rank":2830},{"set":"AD","rank":3151},{"set":"AD","rank":3215},{"set":"AD","rank":3429},{"set":"AD","rank":3493},{"set":"AD","rank":3749},{"set":"AD","rank":3835},{"set":"AD","rank":4070},{"set":"AD","rank":4155},{"set":"AD","rank":4262},{"set":"AD","rank":4369},{"set":"AD","rank":4753},{"set":"AD","rank":5180},{"set":"AD","rank":5266},{"set":"AD","rank":5501},{"set":"AD","rank":5565},{"set":"AD","rank":5929},{"set":"AD","rank":6036},{"set":"AD","rank":6249},{"set":"AD","rank":6335},{"set":"AD","rank":6549},{"set":"AD","rank":6933},{"set":"AD","rank":7724},{"set":"AD","rank":8002},{"set":"AD","rank":8087},{"set":"AD","rank":8664},{"set":"AD","rank":8750},{"set":"AD","rank":8835},{"set":"AD","rank":8921},{"set":"AD","rank":9006},{"set":"AD","rank":9092},{"set":"AD","rank":9177},{"set":"AD","rank":9263},{"set":"AD","rank":9348},{"set":"AD","rank":9434},{"set":"AD","rank":9519},{"set":"AD","rank":9604},{"set":"AD","rank":10289},{"set":"AD","rank":10630},{"set":"AD","rank":10716},{"set":"AD","rank":10801},{"set":"AD","rank":10887},{"set":"AD","rank":10972},{"set":"AD","rank":12960},{"set":"AD","rank":13045},{"set":"AD","rank":13408},{"set":"AD","rank":14049},{"set":"AD","rank":14156},{"set":"AD","rank":14477},{"set":"AD","rank":14583},{"set":"AD","rank":14797},{"set":"AD","rank":15844},{"set":"AD","rank":16550},{"set":"AD","rank":16657},{"set":"AD","rank":16763},{"set":"AD","rank":17875},{"set":"AD","rank":18046},{"set":"AD","rank":18366},{"set":"AD","rank":19542},{"set":"AD","rank":21358},{"set":"AD","rank":21465},{"set":"AD","rank":21572},{"set":"AD","rank":21722},{"set":"AD","rank":22106},{"set":"AD","rank":22170},{"set":"AD","rank":22896},{"set":"AD","rank":23324},{"set":"AD","rank":23773},{"set":"AD","rank":23858},{"set":"AD","rank":23943},{"set":"AD","rank":24071},{"set":"AD","rank":24178},{"set":"AD","rank":24606},{"set":"AD","rank":24841},{"set":"AD","rank":25226},{"set":"AD","rank":26123},{"set":"AD","rank":26273},{"set":"AD","rank":26978},{"set":"AD","rank":27748},{"set":"AD","rank":27833},{"set":"AD","rank":28047},{"set":"AD","rank":28453},{"set":"AD","rank":28560},{"set":"AD","rank":29158},{"set":"AD","rank":29265},{"set":"AD","rank":29372},{"set":"AD","rank":29735},{"set":"AD","rank":29842},
      {"set":"HD","rank":52},{"set":"HD","rank":116},{"set":"HD","rank":180},{"set":"HD","rank":244},{"set":"HD","rank":309},{"set":"HD","rank":373},{"set":"HD","rank":437},{"set":"HD","rank":501},{"set":"HD","rank":565},{"set":"HD","rank":629},{"set":"HD","rank":693},{"set":"HD","rank":757},{"set":"HD","rank":821},{"set":"HD","rank":885},{"set":"HD","rank":950},{"set":"HD","rank":1014},{"set":"HD","rank":1078},{"set":"HD","rank":1142},{"set":"HD","rank":1206},{"set":"HD","rank":1270},{"set":"HD","rank":1548},{"set":"HD","rank":1762},{"set":"HD","rank":1826},{"set":"HD","rank":2232},{"set":"HD","rank":2659},{"set":"HD","rank":2745},{"set":"HD","rank":3087},{"set":"HD","rank":3194},{"set":"HD","rank":3450},{"set":"HD","rank":3771},{"set":"HD","rank":4283},{"set":"HD","rank":4369},{"set":"HD","rank":4647},{"set":"HD","rank":5224},{"set":"HD","rank":5309},{"set":"HD","rank":5395},{"set":"HD","rank":5480},{"set":"HD","rank":5566},{"set":"HD","rank":5651},{"set":"HD","rank":6463},{"set":"HD","rank":6549},{"set":"HD","rank":6634},{"set":"HD","rank":6869},{"set":"HD","rank":7532},{"set":"HD","rank":8087},{"set":"HD","rank":8536},{"set":"HD","rank":8857},{"set":"HD","rank":9455},{"set":"HD","rank":10289},{"set":"HD","rank":10374},{"set":"HD","rank":10652},{"set":"HD","rank":10716},{"set":"HD","rank":10801},{"set":"HD","rank":10887},{"set":"HD","rank":10972},{"set":"HD","rank":11571},{"set":"HD","rank":12212},{"set":"HD","rank":12661},{"set":"HD","rank":12746},{"set":"HD","rank":12832},{"set":"HD","rank":12917},{"set":"HD","rank":13003},{"set":"HD","rank":13344},{"set":"HD","rank":14669},{"set":"HD","rank":14968},{"set":"HD","rank":15054},{"set":"HD","rank":15161},{"set":"HD","rank":15652},{"set":"HD","rank":16550},{"set":"HD","rank":17191},{"set":"HD","rank":17939},{"set":"HD","rank":18003},{"set":"HD","rank":18259},{"set":"HD","rank":18345},{"set":"HD","rank":18580},{"set":"HD","rank":19221},{"set":"HD","rank":19648},{"set":"HD","rank":20247},{"set":"HD","rank":21358},{"set":"HD","rank":22896},{"set":"HD","rank":23815},{"set":"HD","rank":23922},{"set":"HD","rank":24029},{"set":"HD","rank":24670},{"set":"HD","rank":25162},{"set":"HD","rank":25525},{"set":"HD","rank":25953},{"set":"HD","rank":27149},{"set":"HD","rank":27406},{"set":"HD","rank":27513},{"set":"HD","rank":27620},{"set":"HD","rank":27876},{"set":"HD","rank":28432},{"set":"HD","rank":28518},{"set":"HD","rank":28603},{"set":"HD","rank":28689},{"set":"HD","rank":28774},{"set":"HD","rank":28988},{"set":"HD","rank":29757},{"set":"HD","rank":29842},{"set":"HD","rank":29928},{"set":"HD","rank":29975},
      {"set":"PD","rank":52},{"set":"PD","rank":116},{"set":"PD","rank":202},{"set":"PD","rank":287},{"set":"PD","rank":373},{"set":"PD","rank":458},{"set":"PD","rank":544},{"set":"PD","rank":629},{"set":"PD","rank":907},{"set":"PD","rank":992},{"set":"PD","rank":1078},{"set":"PD","rank":1227},{"set":"PD","rank":1527},{"set":"PD","rank":1633},{"set":"PD","rank":1804},{"set":"PD","rank":2125},{"set":"PD","rank":2232},{"set":"PD","rank":2446},{"set":"PD","rank":2702},{"set":"PD","rank":2787},{"set":"PD","rank":3151},{"set":"PD","rank":3236},{"set":"PD","rank":3322},{"set":"PD","rank":3407},{"set":"PD","rank":3685},{"set":"PD","rank":4219},{"set":"PD","rank":4305},{"set":"PD","rank":4732},{"set":"PD","rank":4796},{"set":"PD","rank":5202},{"set":"PD","rank":5288},{"set":"PD","rank":5501},{"set":"PD","rank":5587},{"set":"PD","rank":5672},{"set":"PD","rank":5843},{"set":"PD","rank":6442},{"set":"PD","rank":6527},{"set":"PD","rank":6869},{"set":"PD","rank":7638},{"set":"PD","rank":7959},{"set":"PD","rank":8044},{"set":"PD","rank":8536},{"set":"PD","rank":8835},{"set":"PD","rank":9455},{"set":"PD","rank":10181},{"set":"PD","rank":10267},{"set":"PD","rank":10823},{"set":"PD","rank":10908},{"set":"PD","rank":10994},{"set":"PD","rank":12126},{"set":"PD","rank":12639},{"set":"PD","rank":12938},{"set":"PD","rank":13387},{"set":"PD","rank":15844},{"set":"PD","rank":17233},{"set":"PD","rank":18046},{"set":"PD","rank":18366},{"set":"PD","rank":18921},{"set":"PD","rank":21058},{"set":"PD","rank":21315},{"set":"PD","rank":22063},{"set":"PD","rank":23815},{"set":"PD","rank":24243},{"set":"PD","rank":24820},{"set":"PD","rank":25204},{"set":"PD","rank":25674},{"set":"PD","rank":29735},
      {"set":"OXP","rank":52},{"set":"OXP","rank":116},{"set":"OXP","rank":180},{"set":"OXP","rank":244},{"set":"OXP","rank":309},{"set":"OXP","rank":373},{"set":"OXP","rank":437},{"set":"OXP","rank":501},{"set":"OXP","rank":565},{"set":"OXP","rank":629},{"set":"OXP","rank":693},{"set":"OXP","rank":757},{"set":"OXP","rank":821},{"set":"OXP","rank":885},{"set":"OXP","rank":971},{"set":"OXP","rank":1056},{"set":"OXP","rank":1142},{"set":"OXP","rank":1227},{"set":"OXP","rank":1313},{"set":"OXP","rank":1527},{"set":"OXP","rank":1633},{"set":"OXP","rank":1740},{"set":"OXP","rank":1847},{"set":"OXP","rank":2168},{"set":"OXP","rank":2253},{"set":"OXP","rank":2339},{"set":"OXP","rank":2424},{"set":"OXP","rank":2510},{"set":"OXP","rank":2595},{"set":"OXP","rank":2681},{"set":"OXP","rank":2787},{"set":"OXP","rank":3151},{"set":"OXP","rank":3236},{"set":"OXP","rank":3514},{"set":"OXP","rank":3771},{"set":"OXP","rank":4262},{"set":"OXP","rank":4369},{"set":"OXP","rank":4753},{"set":"OXP","rank":4839},{"set":"OXP","rank":4924},{"set":"OXP","rank":5010},{"set":"OXP","rank":5095},{"set":"OXP","rank":5180},{"set":"OXP","rank":5266},{"set":"OXP","rank":5352},{"set":"OXP","rank":5437},{"set":"OXP","rank":5523},{"set":"OXP","rank":5608},{"set":"OXP","rank":5929},{"set":"OXP","rank":6121},{"set":"OXP","rank":6442},{"set":"OXP","rank":7104},{"set":"OXP","rank":7190},{"set":"OXP","rank":7682},{"set":"OXP","rank":7745},{"set":"OXP","rank":8814},{"set":"OXP","rank":9241},{"set":"OXP","rank":9818},{"set":"OXP","rank":10075},{"set":"OXP","rank":10267},{"set":"OXP","rank":10566},{"set":"OXP","rank":10652},{"set":"OXP","rank":10737},{"set":"OXP","rank":10823},{"set":"OXP","rank":10908},{"set":"OXP","rank":10994},{"set":"OXP","rank":12960},{"set":"OXP","rank":13387},{"set":"OXP","rank":15844},{"set":"OXP","rank":18046},{"set":"OXP","rank":18409},{"set":"OXP","rank":19969},{"set":"OXP","rank":20610},{"set":"OXP","rank":21956},{"set":"OXP","rank":22213},{"set":"OXP","rank":23025},{"set":"OXP","rank":23345},{"set":"OXP","rank":24820},{"set":"OXP","rank":26017},{"set":"OXP","rank":27492},{"set":"OXP","rank":28838},{"set":"OXP","rank":29735},
      {"set":"RIB","rank":629},{"set":"RIB","rank":693},{"set":"RIB","rank":757},{"set":"RIB","rank":821},{"set":"RIB","rank":885},{"set":"RIB","rank":950},{"set":"RIB","rank":1014},{"set":"RIB","rank":1078},{"set":"RIB","rank":1142},{"set":"RIB","rank":1206},{"set":"RIB","rank":1270},{"set":"RIB","rank":1334},{"set":"RIB","rank":1398},{"set":"RIB","rank":1462},{"set":"RIB","rank":1527},{"set":"RIB","rank":1591},{"set":"RIB","rank":1655},{"set":"RIB","rank":1719},{"set":"RIB","rank":1783},{"set":"RIB","rank":1847},{"set":"RIB","rank":1911},{"set":"RIB","rank":1975},{"set":"RIB","rank":2039},{"set":"RIB","rank":2104},{"set":"RIB","rank":2168},{"set":"RIB","rank":2232},{"set":"RIB","rank":2296},{"set":"RIB","rank":2360},{"set":"RIB","rank":2424},{"set":"RIB","rank":2488},{"set":"RIB","rank":2552},{"set":"RIB","rank":2616},{"set":"RIB","rank":2681},{"set":"RIB","rank":2745},{"set":"RIB","rank":2809},{"set":"RIB","rank":2873},{"set":"RIB","rank":2937},{"set":"RIB","rank":3001},{"set":"RIB","rank":3087},{"set":"RIB","rank":3172},{"set":"RIB","rank":3258},{"set":"RIB","rank":3343},{"set":"RIB","rank":3429},{"set":"RIB","rank":3514},{"set":"RIB","rank":3600},{"set":"RIB","rank":3685},{"set":"RIB","rank":3771},{"set":"RIB","rank":3856},{"set":"RIB","rank":3941},{"set":"RIB","rank":4027},{"set":"RIB","rank":4112},{"set":"RIB","rank":4198},{"set":"RIB","rank":4283},{"set":"RIB","rank":4369},{"set":"RIB","rank":4689},{"set":"RIB","rank":4753},{"set":"RIB","rank":4817},{"set":"RIB","rank":4881},{"set":"RIB","rank":5010},{"set":"RIB","rank":5437},{"set":"RIB","rank":5758},{"set":"RIB","rank":6335},{"set":"RIB","rank":6677},{"set":"RIB","rank":6848},{"set":"RIB","rank":7083},{"set":"RIB","rank":7788},{"set":"RIB","rank":8258},{"set":"RIB","rank":8750},{"set":"RIB","rank":9861},{"set":"RIB","rank":10246},{"set":"RIB","rank":10438},{"set":"RIB","rank":10609},{"set":"RIB","rank":11699},{"set":"RIB","rank":12404},{"set":"RIB","rank":13728},{"set":"RIB","rank":14092},{"set":"RIB","rank":14156},{"set":"RIB","rank":18152}
    ]
  },
  "spacing": 45,
  "resolve": {"scale": {"color": "independent", "x": "independent", "y": "independent"}, "legend": {"color": "independent"}},
  "vconcat": [
    {
      "title": {"text": "A", "anchor": "start", "frame": "bounds", "font": "Open Sans", "fontSize": 28, "fontWeight": "bold", "color": "black", "offset": 0, "dy": 32, "dx": 6},
      "spacing": 10,
      "resolve": {"scale": {"color": "independent", "x": "independent", "y": "independent"}, "legend": {"color": "independent"}},
      "vconcat": [
        {
          "width": 1257,
          "height": 776,
          "title": {"text": "NDUFA13", "anchor": "start", "frame": "group", "font": "Liberation Serif", "fontSize": 32, "fontWeight": "normal", "color": "black", "offset": 10},
          "layer": [
            {
              "data": {"values": [{}]},
              "mark": {"type": "rule", "color": "black", "strokeWidth": 4},
              "encoding": {"y": {"datum": 0, "type": "quantitative"}}
            },
            {
              "data": {"name": "curvesA"},
              "mark": {"type": "line", "strokeWidth": 4.5},
              "encoding": {
                "x": {"field": "rank", "type": "quantitative", "scale": {"domain": [0, 30000], "nice": false, "zero": false},
                  "axis": {"grid": true, "values": [5000, 10000, 15000, 20000, 25000], "labels": false, "ticks": false, "domain": false, "title": null, "gridColor": "#ebebeb", "gridWidth": 2}},
                "y": {"field": "es", "type": "quantitative", "scale": {"domain": [-0.117, 0.812], "nice": false, "zero": false},
                  "axis": {"title": "Running enrichment score", "titleFont": "Liberation Serif", "titleFontSize": 31, "titleFontWeight": "normal", "titleColor": "black", "titlePadding": 28, "values": [0, 0.2, 0.4, 0.6, 0.8], "format": ".1f", "labelFont": "Liberation Serif", "labelFontSize": 32, "labelColor": "#222222", "labelPadding": 4, "tickSize": 6, "tickWidth": 2, "tickColor": "#333333", "domainColor": "black", "domainWidth": 2.5, "grid": false}},
                "color": {"field": "set", "type": "nominal",
                  "scale": {"domain": ["RIB", "OXP", "PD", "HD", "AD"], "range": ["#E41A1C", "#377EB8", "#4DAF4A", "#984EA3", "#FF7F00"]},
                  "legend": {"orient": "none", "legendX": 1302, "legendY": 361, "title": null, "symbolType": "stroke", "symbolSize": 1024, "symbolStrokeWidth": 5, "labelFont": "Liberation Serif", "labelFontWeight": "bold", "labelFontSize": 25, "labelColor": "black", "labelOffset": 17, "labelLimit": 800, "rowPadding": 7.6,
                    "labelExpr": "datum.label == 'RIB' ? 'KEGG_RIBOSOME' : datum.label == 'OXP' ? 'KEGG_OXIDATIVE_PHOSPHORYLATION' : datum.label == 'PD' ? 'KEGG_PARKINSONS_DISEASE' : datum.label == 'HD' ? 'KEGG_HUNTINGTONS_DISEASE' : 'KEGG_ALZHEIMERS_DISEASE'"}}
              }
            }
          ]
        },
        {
          "width": 1257,
          "height": 116,
          "data": {"name": "rugA"},
          "mark": {"type": "tick", "thickness": 2.5, "size": 24, "opacity": 1},
          "encoding": {
            "x": {"field": "rank", "type": "quantitative", "scale": {"domain": [0, 30000], "nice": false, "zero": false}, "axis": null},
            "y": {"field": "set", "type": "nominal", "sort": ["AD", "HD", "PD", "OXP", "RIB"], "scale": {"paddingInner": 0, "paddingOuter": 0},
              "axis": {"title": null, "labels": false, "ticks": false, "domainColor": "black", "domainWidth": 2.5, "grid": false}},
            "color": {"field": "set", "type": "nominal", "scale": {"domain": ["RIB", "OXP", "PD", "HD", "AD"], "range": ["#E41A1C", "#377EB8", "#4DAF4A", "#984EA3", "#FF7F00"]}, "legend": null}
          }
        }
      ]
    },
    {
      "title": {"text": "B", "anchor": "start", "frame": "bounds", "font": "Open Sans", "fontSize": 28, "fontWeight": "bold", "color": "black", "offset": 0, "dy": 24, "dx": 8},
      "spacing": 10,
      "resolve": {"scale": {"color": "independent", "x": "independent", "y": "independent"}, "legend": {"color": "independent"}},
      "vconcat": [
        {
          "width": 1257,
          "height": 773,
          "title": {"text": "CRIP1", "anchor": "start", "frame": "group", "font": "Liberation Serif", "fontSize": 32, "fontWeight": "normal", "color": "black", "offset": 10, "dx": 3},
          "layer": [
            {
              "data": {"values": [{}]},
              "mark": {"type": "rule", "color": "black", "strokeWidth": 4},
              "encoding": {"y": {"datum": 0, "type": "quantitative"}}
            },
            {
              "data": {"name": "curvesB"},
              "mark": {"type": "line", "strokeWidth": 4.5},
              "encoding": {
                "x": {"field": "rank", "type": "quantitative", "scale": {"domain": [0, 30000], "nice": false, "zero": false},
                  "axis": {"grid": true, "values": [5000, 10000, 15000, 20000, 25000], "labels": false, "ticks": false, "domain": false, "title": null, "gridColor": "#ebebeb", "gridWidth": 2}},
                "y": {"field": "es", "type": "quantitative", "scale": {"domain": [-0.129, 0.77], "nice": false, "zero": false},
                  "axis": {"title": "Running enrichment score", "titleFont": "Liberation Serif", "titleFontSize": 31, "titleFontWeight": "normal", "titleColor": "black", "titlePadding": 28, "values": [0, 0.2, 0.4, 0.6], "format": ".1f", "labelFont": "Liberation Serif", "labelFontSize": 32, "labelColor": "#222222", "labelPadding": 4, "tickSize": 6, "tickWidth": 2, "tickColor": "#333333", "domainColor": "black", "domainWidth": 2.5, "grid": false}},
                "color": {"field": "set", "type": "nominal",
                  "scale": {"domain": ["RIB", "OXP", "PD", "HD", "AD"], "range": ["#E41A1C", "#377EB8", "#4DAF4A", "#984EA3", "#FF7F00"]},
                  "legend": {"orient": "none", "legendX": 1302, "legendY": 360, "title": null, "symbolType": "stroke", "symbolSize": 1024, "symbolStrokeWidth": 5, "labelFont": "Liberation Serif", "labelFontWeight": "bold", "labelFontSize": 25, "labelColor": "black", "labelOffset": 17, "labelLimit": 800, "rowPadding": 7.6,
                    "labelExpr": "datum.label == 'RIB' ? 'KEGG_RIBOSOME' : datum.label == 'OXP' ? 'KEGG_OXIDATIVE_PHOSPHORYLATION' : datum.label == 'PD' ? 'KEGG_PARKINSONS_DISEASE' : datum.label == 'HD' ? 'KEGG_HUNTINGTONS_DISEASE' : 'KEGG_ALZHEIMERS_DISEASE'"}}
              }
            }
          ]
        },
        {
          "width": 1257,
          "height": 116,
          "data": {"name": "rugB"},
          "mark": {"type": "tick", "thickness": 2.5, "size": 24, "opacity": 1},
          "encoding": {
            "x": {"field": "rank", "type": "quantitative", "scale": {"domain": [0, 30000], "nice": false, "zero": false}, "axis": null},
            "y": {"field": "set", "type": "nominal", "sort": ["AD", "HD", "PD", "OXP", "RIB"], "scale": {"paddingInner": 0, "paddingOuter": 0},
              "axis": {"title": null, "labels": false, "ticks": false, "domainColor": "black", "domainWidth": 2.5, "grid": false}},
            "color": {"field": "set", "type": "nominal", "scale": {"domain": ["RIB", "OXP", "PD", "HD", "AD"], "range": ["#E41A1C", "#377EB8", "#4DAF4A", "#984EA3", "#FF7F00"]}, "legend": null}
          }
        }
      ]
    }
  ]
}
